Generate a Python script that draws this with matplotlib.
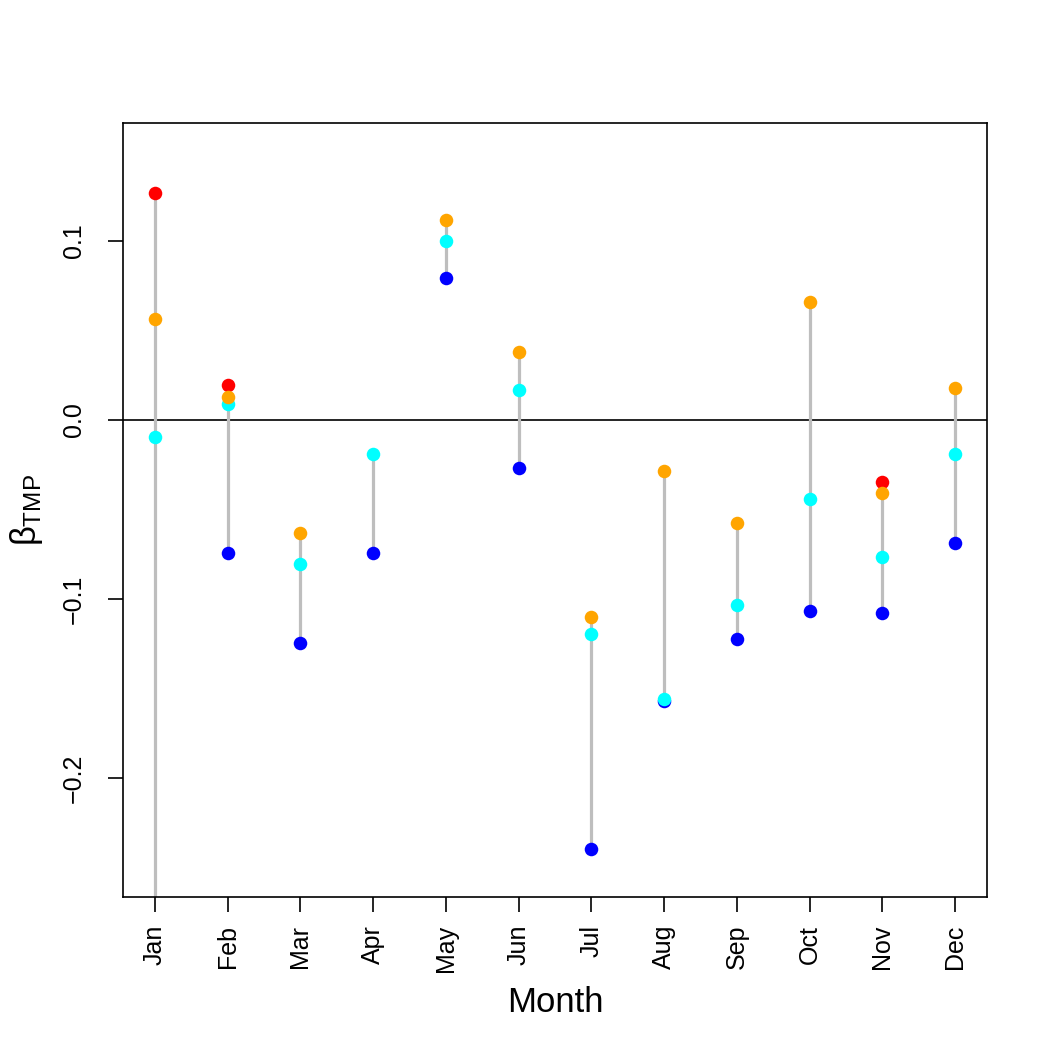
import numpy as np
import matplotlib
matplotlib.use("Agg")
import matplotlib.pyplot as plt

plt.rcParams['font.family'] = ['Liberation Sans', 'DejaVu Sans']
plt.rcParams['mathtext.fontset'] = 'custom'
plt.rcParams['mathtext.rm'] = 'Liberation Sans'
plt.rcParams['mathtext.it'] = 'Liberation Sans'

months = ["Jan", "Feb", "Mar", "Apr", "May", "Jun",
          "Jul", "Aug", "Sep", "Oct", "Nov", "Dec"]
nan = np.nan
red_vals = [0.1267, 0.0194, nan, nan, nan, nan,
            nan, nan, nan, nan, -0.0345, nan]
orange_vals = [0.0563, 0.0127, -0.0633, nan, 0.1117, 0.0382,
               -0.1102, -0.0285, -0.0577, 0.0661, -0.0410, 0.0177]
cyan_vals = [-0.0095, 0.0087, -0.0806, -0.0192, 0.1000, 0.0166,
             -0.1197, -0.1560, -0.1034, -0.0441, -0.0767, -0.0192]
blue_vals = [-0.30, -0.0743, -0.1248, -0.0745, 0.0793, -0.0268,
             -0.2398, -0.1572, -0.1223, -0.1070, -0.1080, -0.0689]

x = np.arange(1, 13)
allv = np.array([red_vals, orange_vals, cyan_vals, blue_vals])
lo = np.nanmin(allv, axis=0)
hi = np.nanmax(allv, axis=0)

fig = plt.figure(figsize=(10.5, 10.5), dpi=100)
ax = fig.add_axes([123/1050, 1-897/1050, 864/1050, 774/1050])

ax.vlines(x, lo, hi, color='#BEBEBE', lw=2.3, zorder=1)
ax.axhline(0, color='black', lw=1.2, zorder=0.5)

ms = 95
ax.scatter(x, blue_vals, s=ms, color='blue', zorder=2, lw=0)
ax.scatter(x, cyan_vals, s=ms, color='cyan', zorder=3, lw=0)
ax.scatter(x, red_vals, s=ms, color='red', zorder=4, lw=0)
ax.scatter(x, orange_vals, s=ms, color='orange', zorder=5, lw=0)

ax.set_xlim(0.56, 12.44)
ax.set_ylim(-0.2665, 0.1659)
ax.set_xticks(x)
ax.set_xticklabels(months, rotation=90)
ax.set_yticks([-0.2, -0.1, 0.0, 0.1])
ax.set_yticklabels(["\u22120.2", "\u22120.1", "0.0", "0.1"], rotation=90, va='center')
ax.tick_params(axis='both', length=11, width=1.2, labelsize=18)
ax.tick_params(axis='x', pad=9)
ax.tick_params(axis='y', pad=16)
for s in ax.spines.values():
    s.set_linewidth(1.2)

ax.set_xlabel("Month", fontsize=25, labelpad=10)
ax.set_ylabel(r"$\beta_{\mathrm{TMP}}$", fontsize=25, labelpad=12)

fig.savefig("out.png", dpi=100)
